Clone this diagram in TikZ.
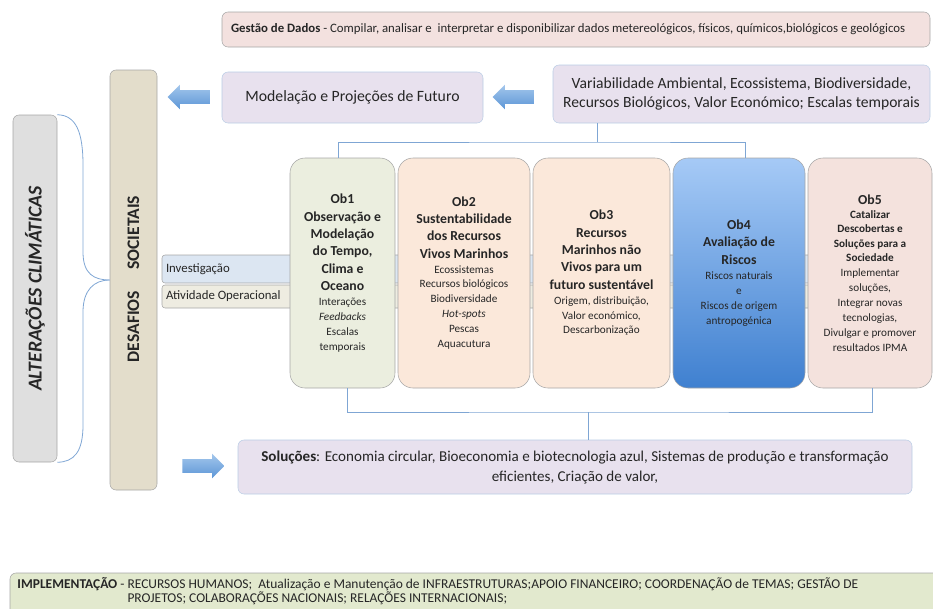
\documentclass[tikz,border=0pt]{standalone}
\usepackage{fontspec}
\setmainfont{Carlito}
\usetikzlibrary{shapes.arrows}

\newlength\pxu
\setlength\pxu{0.75pt}

\definecolor{txt}{HTML}{262626}
\definecolor{edge}{HTML}{A6A6A6}
\definecolor{lavfill}{HTML}{E8E1EE}
\definecolor{lavedge}{HTML}{B9CDE5}
\definecolor{pinkfill}{HTML}{F3E1DF}
\definecolor{desfill}{HTML}{E3DDCB}
\definecolor{altfill}{HTML}{DFDFDF}
\definecolor{invfill}{HTML}{DCE6F2}
\definecolor{atvfill}{HTML}{EEECE1}
\definecolor{oneFill}{HTML}{EBEEDF}
\definecolor{twoFill}{HTML}{FBE8DA}
\definecolor{fiveFill}{HTML}{F4E2DD}
\definecolor{fourTop}{HTML}{A6CAF6}
\definecolor{fourBot}{HTML}{3F80D0}
\definecolor{implFill}{HTML}{E2E9CE}
\definecolor{braceblue}{HTML}{7FA6D4}
\definecolor{arrTop}{HTML}{A4C6EC}
\definecolor{arrBot}{HTML}{5B96D6}

\newcommand\obhead{\fontsize{10.3}{13}\selectfont\bfseries}
\newcommand\obitem{\fontsize{8.4}{11.2}\selectfont}

\tikzset{
  box/.style={draw=edge, rounded corners=6\pxu, inner sep=0pt, align=flush center, text=txt},
  lavbox/.style={box, draw=lavedge, fill=lavfill},
  obbox/.style={box, rounded corners=15\pxu, minimum height=230\pxu},
  band/.style={draw=edge, rounded corners=3\pxu, inner xsep=4\pxu, inner ysep=0pt,
    align=flush left, text=txt, font=\fontsize{9.6}{10}\selectfont},
  blockarrow/.style={single arrow, draw=none, top color=arrTop, bottom color=arrBot,
    inner xsep=0pt, inner ysep=6.5\pxu, single arrow head extend=5.5\pxu,
    minimum width=0pt, minimum height=42\pxu},
  brace/.style={draw=braceblue, line width=0.6pt}
}

\begin{document}
\begin{tikzpicture}[x=0.75pt, y=-0.75pt]
\useasboundingbox (0,0) rectangle (933,608);
\clip (0,0) rectangle (933,608);

% top row
\node[box, fill=pinkfill, minimum width=708\pxu, minimum height=35\pxu, text width=690\pxu,
  align=flush left, font=\fontsize{9.6}{11}\selectfont] (gest) at (576,29.5)
  {\textbf{Gestão de Dados} - Compilar, analisar e~ interpretar e disponibilizar dados metereológicos, físicos, químicos,biológicos e geológicos};
\node[lavbox, minimum width=261\pxu, minimum height=51\pxu, font=\fontsize{11.8}{14}\selectfont] (model) at (352.5,97.5)
  {Modelação e Projeções de Futuro};
\node[lavbox, minimum width=377\pxu, minimum height=58\pxu, font=\fontsize{11.7}{14}\selectfont] (var) at (741.5,94)
  {Variabilidade Ambiental, Ecossistema, Biodiversidade,\\Recursos Biológicos, Valor Económico; Escalas temporais};
\node[blockarrow, shape border rotate=180] (arrVar) at (517,97) {};
\node[blockarrow, shape border rotate=180] (arrDes) at (192,97) {};

% left columns
\node[box, fill=altfill, minimum width=44\pxu, minimum height=347\pxu] (alt) at (35,288.5) {};
\node[rotate=90, text=txt, font=\fontsize{14.8}{16}\selectfont\bfseries\itshape] (altTxt) at (alt.center) {ALTERAÇÕES CLIMÁTICAS};
\node[box, fill=desfill, minimum width=47\pxu, minimum height=420\pxu] (des) at (133.5,280) {};
\node[rotate=90, text=txt, font=\fontsize{13.2}{15}\selectfont\bfseries] (desTxt) at (133.5,279) {DESAFIOS\hspace{1.2em}SOCIETAIS};

\draw[brace] (alt.north east) .. controls (76,115) and (83,132) .. (83,165) -- (83,252)
  .. controls (83,274) and (94,280) .. (des.west);
\draw[brace] (des.west) .. controls (94,280) and (83,290) .. (83,312) -- (83,425)
  .. controls (83,452) and (74,462) .. (alt.south east);

% bands
\node[band, fill=invfill, minimum width=658\pxu, minimum height=28\pxu, text width=650\pxu] (inv) at (491,269) {Investigação};
\node[band, fill=atvfill, minimum width=658\pxu, minimum height=23\pxu, text width=650\pxu] (atv) at (491,296.5) {Atividade Operacional};

% objectives
\node[obbox, fill=oneFill, minimum width=105\pxu, text width=102\pxu] (ob1) at (342.5,273)
  {{\obhead Ob1\\Observação e\\Modelação\\do Tempo,\\Clima e\\Oceano\par}{\obitem Interações\\\textit{Feedbacks}\\Escalas\\temporais\par}};
\node[obbox, fill=twoFill, minimum width=132\pxu, text width=128\pxu] (ob2) at (464,273)
  {{\obhead Ob2\\Sustentabilidade\\dos Recursos\\Vivos Marinhos\par}{\obitem Ecossistemas\\Recursos biológicos\\Biodiversidade\\\textit{Hot-spots}\\Pescas\\Aquacutura\par}};
\node[obbox, fill=twoFill, minimum width=137\pxu, text width=133\pxu] (ob3) at (601.5,273)
  {{\obhead Ob3\\Recursos\\Marinhos não\\Vivos para um\\futuro sustentável\par}{\obitem Origem, distribuição,\\Valor económico,\\Descarbonização\par}};
\node[obbox, top color=fourTop, bottom color=fourBot, minimum width=132\pxu, text width=128\pxu] (ob4) at (739,273)
  {{\obhead Ob4\\Avaliação de\\Riscos\par}{\obitem Riscos naturais\\e\\Riscos de origem\\antropogénica\par}};
\node[obbox, fill=fiveFill, minimum width=124\pxu, text width=122\pxu] (ob5) at (870,273)
  {{\fontsize{10.3}{14}\selectfont\bfseries Ob5\par}{\fontsize{8.4}{10.8}\selectfont\bfseries Catalizar\\Descobertas e\\Soluções para a\\Sociedade\par}{\obitem Implementar\\soluções,\\Integrar novas\\tecnologias,\\Divulgar e promover\\resultados IPMA\par}};

% brackets
\coordinate (topBar) at (597,142);
\draw[brace] (ob1.north -| 338,0) |- (topBar) -| (ob4.north -| 745,0);
\draw[brace] (topBar) -- (var.south -| topBar);
\coordinate (botBar) at (588,412);
\draw[brace] (ob1.south -| 347,0) |- (botBar) -| (ob5.south -| 872,0);

% solutions
\node[lavbox, minimum width=674\pxu, minimum height=54\pxu, font=\fontsize{11.3}{15}\selectfont] (sol) at (575,467)
  {\textbf{Soluções}: Economia circular, Bioeconomia e biotecnologia azul, Sistemas de produção e transformação\\eficientes, Criação de valor,};
\draw[brace] (botBar) -- (sol.north -| botBar);
\node[blockarrow] (arrSol) at (200,466) {};

% implementation
\node[box, fill=implFill, minimum width=935\pxu, minimum height=46\pxu, text width=920\pxu, align=flush left,
  font=\fontsize{10.1}{10.8}\selectfont] (impl) at (477.5,596)
  {\textbf{IMPLEMENTAÇÃO} - \parbox[t]{585pt}{\raggedright RECURSOS HUMANOS;~ Atualização e Manutenção de INFRAESTRUTURAS;APOIO FINANCEIRO; COORDENAÇÃO de TEMAS; GESTÃO DE\\PROJETOS; COLABORAÇÕES NACIONAIS; RELAÇÕES INTERNACIONAIS;}\par\vspace{7pt}};
\end{tikzpicture}
\end{document}
